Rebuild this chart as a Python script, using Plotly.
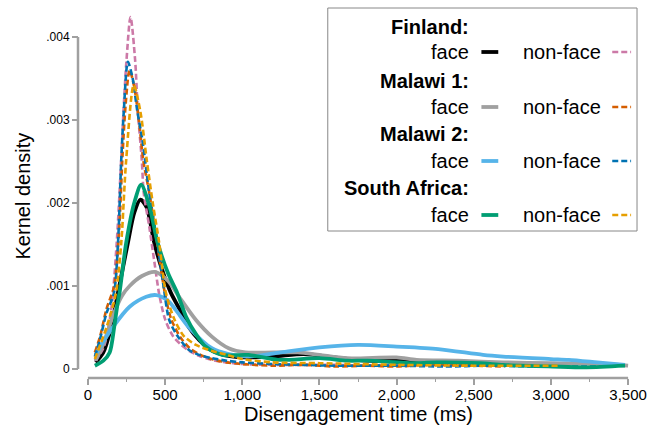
import plotly.graph_objects as go

# ---------------- data ----------------
fin_face_x = [50, 100, 150, 195, 259, 300, 340, 380, 430, 480, 537, 600, 655, 720, 796, 900, 1000, 1200, 1400, 1600, 1800, 2000, 2200, 2400, 2500]
fin_face_y = [.00008, .0002, .0005, .00092, .00152, .00188, .00204, .00195, .00152, .0012, .00092, .0007, .0005, .00035, .00023, .00016, .00014, .00015, .00018, .00014, .0001, .0001, .00008, .00007, .00006]

fin_non_x = [45, 100, 150, 186, 215, 231, 250, 276, 306, 323, 349, 362, 398, 430, 462, 500, 550, 600, 655, 720, 800, 900, 1000, 1200, 1400, 1600, 1800, 2000, 2200, 2500, 2800]
fin_non_y = [.0001, .00025, .0007, .0015, .0025, .00312, .00372, .00424, .00372, .00312, .00252, .00212, .00171, .0013, .0009, .0006, .0004, .0003, .00022, .00016, .00011, .00008, .00006, .00005, .00005, .00005, .00004, .00005, .00005, .00004, .00004]

mw1_face_x = [50, 100, 160, 220, 270, 350, 435, 520, 591, 700, 803, 912, 1020, 1200, 1360, 1500, 1680, 2000, 2130, 2400, 2690, 3000, 3330, 3500]
mw1_face_y = [.0001, .0003, .00063, .00088, .001, .00112, .00117, .00106, .00087, .00059, .00039, .00025, .0002, .0002, .0002, .00017, .00013, .00014, .00011, .0001, .00008, .00007, .00006, .00004]

mw1_non_x = [45, 80, 120, 170, 200, 225, 245, 270, 300, 330, 360, 400, 450, 500, 540, 600, 660, 720, 800, 900, 1000, 1200, 1400, 1600, 1800, 2000, 2200, 2500, 2700]
mw1_non_y = [.0002, .0004, .00072, .001, .0016, .0026, .0032, .0036, .0034, .003, .0025, .0021, .0015, .0009, .0006, .00038, .00025, .00018, .00012, .00008, .00006, .00004, .00005, .00003, .00004, .00003, .00005, .00004, .00003]

mw2_face_x = [50, 100, 160, 270, 378, 443, 520, 570, 655, 803, 912, 1040, 1250, 1500, 1750, 2000, 2270, 2560, 2690, 3000, 3115, 3300, 3480]
mw2_face_y = [.00017, .00033, .0005, .00075, .00087, .00089, .00082, .00071, .0005, .00025, .00018, .00015, .0002, .00026, .00029, .00027, .00024, .00017, .00015, .00012, .00011, .00008, .00005]

mw2_non_x = [45, 77, 120, 169, 195, 216, 233, 259, 290, 319, 353, 370, 398, 450, 490, 527, 580, 655, 720, 803, 900, 1000, 1200, 1400, 1600, 1800, 2000, 2300, 2600, 2900, 3200, 3400]
mw2_non_y = [.00015, .00035, .00067, .00092, .00152, .00252, .00312, .0037, .0035, .00312, .00276, .00252, .00212, .00152, .001, .00059, .0004, .00023, .00017, .00013, .0001, .00008, .00006, .00005, .00004, .00004, .00004, .00003, .00004, .00003, .00003, .00003]

sa_face_x = [45, 100, 141, 170, 193, 205, 248, 300, 345, 400, 452, 520, 578, 636, 700, 762, 870, 1040, 1233, 1500, 1680, 1811, 2130, 2260, 2540, 2690, 3010, 3230, 3480]
sa_face_y = [.00004, .0001, .0002, .0005, .0008, .00092, .00152, .002, .00222, .00195, .00152, .00115, .00092, .00063, .00042, .00027, .00017, .00017, .00011, .00013, .0001, .0001, .00007, .00008, .00007, .00005, .00003, .00002, .00004]

sa_non_x = [45, 120, 180, 216, 248, 297, 340, 381, 420, 462, 505, 560, 620, 700, 800, 900, 1000, 1200, 1500, 2000, 2500, 3050]
sa_non_y = [.00012, .0005, .0009, .00152, .00252, .00342, .0031, .00252, .002, .00152, .00092, .0006, .0004, .00029, .00022, .00017, .00012, .00008, .00007, .00005, .00004, .00004]

x_ticks = [0, 500, 1000, 1500, 2000, 2500, 3000, 3500]
y_ticks = [0, .001, .002, .003, .004]
y_ticklabels = ["0", ".001", ".002", ".003", ".004"]

countries = ["Finland:", "Malawi 1:", "Malawi 2:", "South Africa:"]
face_colors = ["#000000", "#A0A0A0", "#56B4E9", "#009E73"]
non_colors = ["#CC79A7", "#D55E00", "#0072B2", "#E69F00"]

series = [
    (fin_face_x, fin_face_y, fin_non_x, fin_non_y),
    (mw1_face_x, mw1_face_y, mw1_non_x, mw1_non_y),
    (mw2_face_x, mw2_face_y, mw2_non_x, mw2_non_y),
    (sa_face_x, sa_face_y, sa_non_x, sa_non_y),
]

# ---------------- layout geometry ----------------
W, H = 655, 433
L, R, T, B = 78, 10, 8, 55
PW, PH = W - L - R, H - T - B


def fx(px):
    return (px - L) / PW


def fy(py):
    return (H - B - py) / PH


FONT = "Liberation Sans, Arial, sans-serif"
AXIS_GREY = "#A0A0A0"

fig = go.Figure()
for i, (fxs, fys, nxs, nys) in enumerate(series):
    fig.add_trace(go.Scatter(x=fxs, y=fys, mode="lines", showlegend=False,
                             line=dict(color=face_colors[i], width=3.8, shape="spline", smoothing=0.8)))
    fig.add_trace(go.Scatter(x=nxs, y=nys, mode="lines", showlegend=False,
                             line=dict(color=non_colors[i], width=2.6, dash="6px,3px", shape="spline", smoothing=0.8)))

slope_x = (633 - 88) / 3500.0
xmin = -(88 - 82) / slope_x
xmax = 3500 + (645 - 633) / slope_x
slope_y = (369 - 37) / 0.004
ymin = -(373 - 369) / slope_y
ymax = 0.004 + (37 - T) / slope_y

fig.update_layout(
    width=W, height=H,
    margin=dict(l=L, r=R, t=T, b=B, pad=0),
    paper_bgcolor="white", plot_bgcolor="white",
    font=dict(family=FONT, color="black"),
    showlegend=False,
    xaxis=dict(domain=[fx(82), 1], range=[xmin, xmax], anchor="free", position=0,
               tickvals=x_ticks, tickformat=",", ticks="outside", ticklen=6, tickwidth=1.5,
               tickcolor=AXIS_GREY, showline=False, showgrid=False, zeroline=False,
               ticklabelstandoff=-3,
               tickfont=dict(size=15, family=FONT, color="black"),
               minor=dict(dtick=250, tick0=0, ticks="outside", ticklen=3, tickwidth=1, tickcolor=AXIS_GREY, showgrid=False)),
    yaxis=dict(domain=[fy(373), 1], range=[ymin, ymax], anchor="free", position=0,
               tickvals=y_ticks, ticktext=y_ticklabels, ticks="outside", ticklen=6, tickwidth=1.5,
               tickcolor=AXIS_GREY, showline=False, showgrid=False, zeroline=False,
               tickfont=dict(size=12, family=FONT, color="black")),
)

shapes = [
    dict(type="line", xref="paper", yref="y", x0=0, x1=0, y0=y_ticks[0], y1=y_ticks[-1],
         line=dict(color=AXIS_GREY, width=2.5)),
    dict(type="line", xref="x", yref="paper", x0=x_ticks[0], x1=x_ticks[-1], y0=0, y1=0,
         line=dict(color=AXIS_GREY, width=2.5)),
    dict(type="rect", xref="paper", yref="paper", x0=fx(330), x1=fx(642), y0=fy(231), y1=fy(8),
         line=dict(color="#888888", width=1), fillcolor="white", layer="above"),
]

annotations = [
    dict(text="Disengagement time (ms)", xref="paper", yref="paper", x=fx(360.5), y=fy(414),
         xanchor="center", yanchor="middle", showarrow=False, font=dict(size=20, family=FONT)),
    dict(text="Kernel density", xref="paper", yref="paper", x=fx(23), y=fy(196), textangle=-90,
         xanchor="center", yanchor="middle", showarrow=False, font=dict(size=20, family=FONT)),
]

head_y = [27, 81, 134, 188]
row_y = [52, 107, 161, 215]
for i in range(4):
    annotations.append(dict(text="<b>%s</b>" % countries[i], xref="paper", yref="paper",
                            x=fx(475), y=fy(head_y[i]), xanchor="right", yanchor="middle",
                            showarrow=False, font=dict(size=20, family=FONT)))
    annotations.append(dict(text="face", xref="paper", yref="paper",
                            x=fx(475), y=fy(row_y[i]), xanchor="right", yanchor="middle",
                            showarrow=False, font=dict(size=20, family=FONT)))
    annotations.append(dict(text="non-face", xref="paper", yref="paper",
                            x=fx(608), y=fy(row_y[i]), xanchor="right", yanchor="middle",
                            showarrow=False, font=dict(size=20, family=FONT)))
    shapes.append(dict(type="line", xref="paper", yref="paper", x0=fx(485), x1=fx(502),
                       y0=fy(row_y[i]), y1=fy(row_y[i]), layer="above",
                       line=dict(color=face_colors[i], width=3.8)))
    shapes.append(dict(type="line", xref="paper", yref="paper", x0=fx(617), x1=fx(636),
                       y0=fy(row_y[i]), y1=fy(row_y[i]), layer="above",
                       line=dict(color=non_colors[i], width=2.6, dash="6px,3px")))

fig.update_layout(shapes=shapes, annotations=annotations)
fig.write_html("out.html")
